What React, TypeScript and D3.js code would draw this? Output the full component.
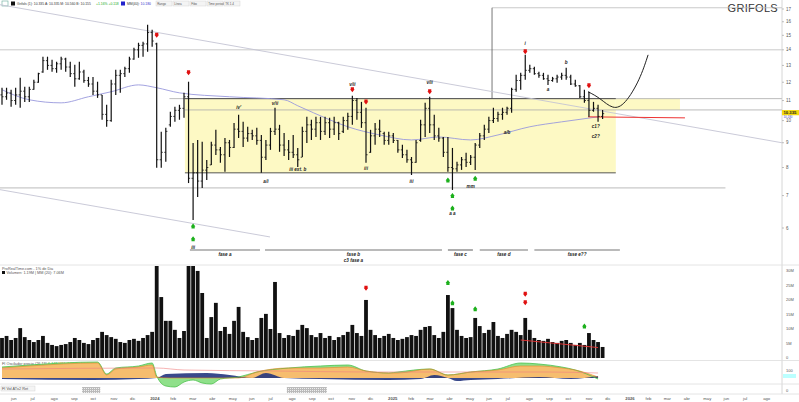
import React from 'react';
import * as d3 from 'd3';

const W = 799, H = 402;
const START = new Date(2023, 4, 18);
const END = new Date(2026, 7, 30);

// weekly OHLC (EUR)
const highs = [11.69,11.69,11.58,11.69,12.26,11.74,11.74,12.14,12.55,13.55,13.55,13.35,13.23,13.55,13.48,13.23,13.04,13.23,12.73,12.31,12.31,12.03,11.30,10.78,12.14,12.73,12.73,12.92,13.55,14.14,14.48,14.55,15.78,15.40,14.48,9.48,9.66,10.43,10.68,10.78,11.41,12.03,8.99,9.12,9.04,8.29,9.04,9.57,8.82,9.21,9.12,9.89,10.28,9.94,9.71,9.57,9.66,9.34,9.12,9.66,10.63,9.80,9.43,9.12,9.34,8.78,9.71,10.18,10.04,10.18,10.18,10.18,10.13,10.18,9.94,10.18,10.38,11.25,11.14,10.93,10.63,9.57,9.89,10.04,9.48,9.48,9.43,9.12,8.91,8.70,8.41,9.12,10.04,10.88,11.20,10.28,9.66,9.25,9.25,8.78,8.22,8.41,8.58,8.49,8.99,9.43,9.80,10.18,10.63,10.43,10.63,10.68,11.69,12.43,12.55,13.67,13.04,12.92,12.61,12.55,12.43,12.31,12.43,12.55,12.85,12.43,12.14,11.85,11.58,11.47,10.93,10.78,10.52];
const lows = [10.78,11.04,10.68,10.78,10.63,10.93,10.93,11.58,11.97,12.55,12.73,12.61,12.55,12.73,12.61,12.31,11.74,12.14,11.97,11.74,11.30,11.14,10.04,9.71,9.94,11.30,11.41,12.31,12.55,13.35,13.48,13.55,13.87,14.21,7.99,7.99,8.22,9.71,9.94,10.04,10.13,7.43,6.23,6.95,7.26,7.54,8.10,8.49,8.18,7.84,8.41,8.78,9.21,8.82,9.04,9.12,8.91,7.80,8.29,8.70,9.34,8.62,8.45,8.29,8.37,8.02,8.41,8.99,9.12,9.25,9.12,9.34,9.21,9.34,9.12,9.43,9.57,9.80,10.04,9.66,8.18,8.58,8.91,9.25,8.91,8.91,8.99,8.58,8.37,8.18,7.72,8.18,9.04,9.25,9.43,9.12,9.04,8.41,7.84,7.19,7.84,7.91,8.02,8.10,7.91,8.78,9.12,9.43,9.89,9.94,10.04,10.28,10.38,11.47,11.58,12.14,12.55,12.43,12.26,12.14,11.85,12.03,11.97,12.14,12.14,11.85,11.74,11.14,10.88,10.18,10.43,9.94,10.08];
const opens = [11.3,11.2,11.4,11.0,11.3,11.5,11.2,11.6,12.0,12.6,13.3,13.0,12.8,13.1,13.4,12.9,12.5,12.2,12.6,12.1,11.9,11.5,11.3,10.3,10.0,11.9,12.4,12.5,12.8,13.4,14.0,14.3,14.4,15.2,14.4,8.3,8.6,9.8,10.2,10.5,10.6,11.2,7.6,7.8,7.5,7.9,8.1,8.9,8.7,8.5,9.0,8.8,9.6,9.5,9.2,9.4,9.3,9.1,8.4,8.9,9.5,9.6,8.9,8.7,8.6,8.5,8.4,9.5,9.8,9.6,9.9,9.5,9.9,9.6,9.9,9.5,10.0,10.2,11.0,10.4,9.9,8.6,9.3,9.6,9.4,9.1,9.3,9.1,8.7,8.5,8.3,8.2,9.1,9.8,10.6,9.8,9.3,9.2,8.6,8.0,7.95,8.1,8.3,8.2,8.4,8.9,9.3,9.6,10.0,10.1,10.3,10.4,10.6,11.6,12.1,12.4,12.7,12.8,12.5,12.4,12.2,12.1,12.2,12.3,12.4,12.3,11.9,11.8,11.2,11.0,10.5,10.6,10.2];
const closes = [11.2,11.4,11.0,11.3,11.5,11.2,11.6,12.0,12.5,13.3,13.0,12.8,13.1,13.4,12.9,12.5,12.2,12.6,12.1,11.9,11.5,11.3,10.3,10.0,11.9,12.4,12.5,12.8,13.4,14.0,14.3,14.4,15.2,14.6,8.3,8.6,9.5,10.2,10.5,10.6,11.2,7.6,7.8,7.5,7.9,8.0,8.9,8.7,8.5,9.0,8.8,9.6,9.5,9.2,9.4,9.3,9.1,8.4,8.9,9.5,9.6,8.9,8.7,8.6,8.5,8.3,9.5,9.8,9.6,9.9,9.5,9.9,9.6,9.9,9.4,10.0,10.2,11.0,10.4,9.9,8.5,9.3,9.6,9.5,9.1,9.3,9.1,8.7,8.5,8.3,8.2,9.0,9.8,10.6,9.8,9.3,9.2,8.6,8.0,7.95,8.1,8.3,8.2,8.4,8.9,9.3,9.6,10.0,10.1,10.3,10.4,10.6,11.6,12.1,12.4,12.7,12.8,12.5,12.4,12.2,12.1,12.2,12.3,12.4,12.3,11.9,11.8,11.2,11.0,10.5,10.6,10.2,10.335];
// weekly volume (millions)
const volumes = [6.9,7.6,6.2,6.9,10.3,7.2,6.2,5.5,6.2,7.6,5.2,4.5,4.1,4.5,4.8,5.5,6.9,6.2,5.2,4.8,6.2,6.9,9.0,7.9,7.2,6.6,5.5,5.2,6.2,6.6,5.9,6.9,7.9,9.0,60,21.0,12.8,12.8,9.7,6.9,9.3,45,40,30.0,22.4,6.9,14.1,19.0,9.3,10.7,8.3,12.8,17.6,9.0,7.2,6.2,6.9,13.8,15.2,10.0,26.2,8.6,6.9,7.9,7.6,9.7,11.4,10.3,7.9,7.2,8.6,6.9,7.6,6.2,7.2,7.9,9.0,11.4,8.6,7.6,20.0,9.7,7.9,6.9,7.6,8.3,6.9,6.2,6.6,7.2,7.9,7.6,9.7,10.7,11.0,7.9,6.9,9.0,21.7,17.2,9.7,7.6,6.9,7.2,13.8,11.0,8.6,9.7,12.4,7.6,6.9,8.3,9.7,9.0,7.9,13.8,9.7,6.9,6.2,5.9,6.6,5.5,5.2,5.9,6.2,5.2,4.5,5.2,4.5,8.6,6.2,5.5,3.8];

// 40-week moving average, read at [week, price]
const maPoints: [number, number][] = [[0,11.58],[6,11.04],[13,10.88],[19,11.20],[24,11.47],[30,11.85],[34,11.69],[39,11.41],[50,11.20],[62,11.04],[65,10.73],[72,10.04],[76,9.71],[83,9.34],[90,9.12],[96,9.25],[103,9.12],[109,9.34],[116,9.71],[123,9.94],[131,10.18]];

// oscillator panel key points [week, value]
const oscOrange: [number, number][] = [[0,10],[6,12],[21,15],[23,3],[25,9],[30,11],[33,13],[34,1],[37,0],[52,0],[56,6],[63,10],[70,10],[76,11],[80,7],[85,5],[87,5],[94,9],[98,3],[103,6],[109,8],[114,12],[118,12],[123,10],[126,8],[131,1]];
const oscGreen: [number, number][] = [[0,11],[6,13],[21,16],[23,4],[25,10],[30,12],[33,15],[34,2],[36,-8],[38,-9],[40,-4],[42,-2],[44,-5],[46,-6],[48,-1],[52,1],[56,6],[63,10],[70,12],[76,13],[80,7],[85,5],[87,6],[94,9],[98,3],[103,6],[109,9],[114,15],[118,14],[123,11],[126,8],[131,-1]];
const oscNavy: [number, number][] = [[0,-1],[20,-2],[30,-1],[34,0],[36,4],[45,5],[50,3],[55,0],[58,5],[62,0],[70,-1],[85,-2],[92,-1],[95,3],[98,0],[100,-3],[103,-2],[109,-1],[118,1],[125,-1],[131,2]];
const oscPink: [number, number][] = [[0,9],[34,10],[40,8],[60,7],[80,6],[100,6],[120,6],[131,5]];

const priceTicks = [6,7,8,9,10,11,12,13,14,15,16,17];
const volTicks = [5,10,15,20,25,30];
const monthNames = ['ene','feb','mar','abr','may','jun','jul','ago','sep','oct','nov','dic'];
const legendBoxes = ["Rango","Línea","Fibo","Time period","TK 1.4"];

// annotations [week, price]
const redArrows: [number, number][] = [[34,15.0],[41,12.55],[77,11.58],[80,10.93],[94,11.47],[115,13.87],[129,11.8]];
const greenArrows: [number, number][] = [[42,6.06],[42,5.7],[98,7.54],[99,7.0],[99,6.6],[104,7.6]];
const waveLabels: [string, number, number][] = [["iii",42,5.48],["iv'",52,10.63],["v/ii",60,10.83],["a/i",58,7.48],["iii ext. b",65,7.91],["v/ii",77,11.9],["iii",80,7.95],["v/ii",94,11.97],["iii",90,7.5],["a a",99,6.42],["mm",103,7.3],["i",115,14.4],["b",124,13.2],["a",120,11.58],["a/b",111,9.43],["c1?",130.5,9.71],["c2?",130.5,9.25]];
const phases: [string, string, number, number][] = [["fase a","",41.3,56.7],["fase b","c3 fase a",57.8,96.7],["fase c","",98,103.5],["fase d","",105,115.6],["fase e??","",117,135.8]];
const parabola: [number, number][] = [[128.8,11.47],[131.4,11.14],[134.3,10.52],[136.9,10.78],[140.2,12.14],[142,13.67]];

export default function App() {
  const nWeeksSpan = (END.getTime() - START.getTime()) / (7 * 86400000);
  const xi = d3.scaleLinear().domain([0, nWeeksSpan]).range([2, 782]);
  const xt = d3.scaleTime().domain([START, END]).range([2, 782]);
  const y = d3.scaleLog().domain([6, 17]).range([228, 9]);
  const vy = d3.scaleLinear().domain([0, 31.7]).range([358, 266]);
  const oy = d3.scaleLinear().domain([0, 10]).range([378, 368]);

  const months = d3.timeMonth.range(new Date(2023, 5, 1), END);
  const font = 'Liberation Sans, Arial, sans-serif';

  const line = d3.line<[number, number]>().x(d => xi(d[0])).y(d => y(d[1])).curve(d3.curveMonotoneX);
  const curveLine = d3.line<[number, number]>().x(d => xi(d[0])).y(d => y(d[1])).curve(d3.curveBasis);
  const oLine = d3.line<[number, number]>().x(d => xi(d[0])).y(d => oy(d[1])).curve(d3.curveMonotoneX);
  const oArea = d3.area<[number, number]>().x(d => xi(d[0])).y0(oy(0)).y1(d => oy(d[1])).curve(d3.curveMonotoneX);

  const arrow = (cx: number, cy: number, down: boolean, color: string, k: number) => {
    const s = down ? 1 : -1;
    return <path key={k} d={`M${cx - 1.6},${cy - 2.5 * s} L${cx + 1.6},${cy - 2.5 * s} L${cx + 1.6},${cy - 0.5 * s} L${cx + 2.3},${cy - 0.5 * s} L${cx},${cy + 2.5 * s} L${cx - 2.3},${cy - 0.5 * s} L${cx - 1.6},${cy - 0.5 * s} Z`} fill={color} />;
  };
  const lastY = y(10.335);

  return (
    <svg width={W} height={H} style={{ position: 'absolute', left: 0, top: 0, background: '#fff' }} fontFamily={font}>
      <defs>
        <pattern id="hatch" width="2" height="2" patternUnits="userSpaceOnUse">
          <rect width="2" height="2" fill="#bbb" />
          <rect width="1" height="1" fill="#eee" />
        </pattern>
        <clipPath id="mainClip"><rect x={0} y={0} width={782} height={265} /></clipPath>
        <clipPath id="volClip"><rect x={0} y={266} width={782} height={94} /></clipPath>
      </defs>

      {/* header legend */}
      <rect x={2} y={1} width={6} height={5} fill="none" stroke="#6a9" strokeWidth={0.6} />
      <rect x={11} y={1.5} width={4} height={4} fill="#111" />
      <text x={17} y={5} fontSize={3.4} fill="#333">Grifols (1): 10.335 A: 10.335 M: 10.560 B: 10.155</text>
      <text x={96} y={5} fontSize={3.4} fill="#2a2">+1.16% +0.118</text>
      <rect x={121} y={1.5} width={4} height={4} fill="#22c" />
      <text x={127} y={5} fontSize={3.4} fill="#333">MM(40): <tspan fill="#33c">10.180</tspan></text>
      {legendBoxes.map((t, k) => (
        <g key={k}><rect x={156 + k * 17} y={1} width={16} height={5} fill="#f4f4f4" stroke="#ccc" strokeWidth={0.4} /><text x={157.2 + k * 17} y={4.8} fontSize={3} fill="#555">{t}</text></g>
      ))}
      <text x={778} y={12} fontSize={11} fill="#333" textAnchor="end" letterSpacing={0.3}>GRIFOLS</text>

      {/* main panel */}
      <g clipPath="url(#mainClip)">
        <rect x={xi(40.2)} y={y(11.1)} width={xi(134.9) - xi(40.2)} height={y(7.8) - y(11.1)} fill="#fdf9c4" />
        <rect x={xi(134.9)} y={y(11.1)} width={xi(149) - xi(134.9)} height={y(10.52) - y(11.1)} fill="#fdf9c4" />
        <line x1={0} x2={782} y1={y(14)} y2={y(14)} stroke="#bbb" strokeWidth={0.8} />
        <line x1={xi(107.7)} x2={782} y1={y(17.1)} y2={y(17.1)} stroke="#bbb" strokeWidth={0.8} />
        <line x1={xi(36.8)} x2={782} y1={y(11.1)} y2={y(11.1)} stroke="#aaa" strokeWidth={0.8} />
        <line x1={xi(40.2)} x2={xi(134.9)} y1={y(11.1)} y2={y(11.1)} stroke="#444" strokeWidth={0.9} />
        <line x1={xi(40.2)} x2={782} y1={y(10.52)} y2={y(10.52)} stroke="#aaa" strokeWidth={0.8} />
        <line x1={xi(40.2)} x2={xi(134.9)} y1={y(7.8)} y2={y(7.8)} stroke="#444" strokeWidth={0.9} />
        <line x1={0} x2={xi(159)} y1={y(7.26)} y2={y(7.26)} stroke="#aaa" strokeWidth={0.8} />
        <line x1={xi(107.7)} x2={xi(107.7)} y1={y(17.1)} y2={y(11.1)} stroke="#555" strokeWidth={0.8} />
        <line x1={xi(-0.44)} y1={y(17.35)} x2={xi(175.2)} y2={y(8.87)} stroke="#c4c4d4" strokeWidth={0.9} />
        <line x1={xi(-0.44)} y1={y(7.2)} x2={xi(58.9)} y2={y(5.75)} stroke="#c4c4d4" strokeWidth={0.9} />
        <path d={line(maPoints) || ''} fill="none" stroke="#9898dc" strokeWidth={0.9} />
        <line x1={xi(128.8)} y1={y(10.18)} x2={xi(150.1)} y2={y(10.13)} stroke="#e33" strokeWidth={1} />
        <path d={curveLine(parabola) || ''} fill="none" stroke="#222" strokeWidth={1} />
        {highs.map((h, i) => {
          const cx = xi(i);
          return (
            <g key={i} stroke="#111" strokeWidth={1.2}>
              <line x1={cx} x2={cx} y1={y(h)} y2={y(lows[i])} />
              <line x1={cx - 1.6} x2={cx} y1={y(opens[i])} y2={y(opens[i])} strokeWidth={0.8} />
              <line x1={cx} x2={cx + 1.6} y1={y(closes[i])} y2={y(closes[i])} strokeWidth={0.8} />
            </g>
          );
        })}
        {redArrows.map((a, k) => arrow(xi(a[0]), y(a[1]), true, '#e01010', k))}
        {greenArrows.map((a, k) => arrow(xi(a[0]), y(a[1]), false, '#1cb01c', 100 + k))}
        {waveLabels.map((l, k) => (
          <text key={k} x={xi(l[1])} y={y(l[2]) + 1.5} fontSize={4.6} fontStyle="italic" fontWeight="bold" fill="#222" textAnchor="middle">{l[0]}</text>
        ))}
        {phases.map((p, k) => (
          <g key={k}>
            <line x1={xi(p[2])} x2={xi(p[3])} y1={250} y2={250} stroke="#777" strokeWidth={1.2} />
            <text x={(xi(p[2]) + xi(p[3])) / 2} y={256} fontSize={4.6} fontStyle="italic" fontWeight="bold" fill="#222" textAnchor="middle">{p[0]}</text>
            {p[1] && <text x={(xi(p[2]) + xi(p[3])) / 2} y={261.5} fontSize={4.6} fontStyle="italic" fontWeight="bold" fill="#222" textAnchor="middle">{p[1]}</text>}
          </g>
        ))}
      </g>

      {/* right axis */}
      <line x1={782} x2={782} y1={0} y2={394} stroke="#ccc" strokeWidth={0.8} />
      {priceTicks.map(t => (
        <g key={t}>
          <line x1={782} x2={784} y1={y(t)} y2={y(t)} stroke="#999" strokeWidth={0.6} />
          <text x={786} y={y(t) + 1.5} fontSize={4.5} fill="#555">{t}</text>
        </g>
      ))}
      <rect x={782} y={lastY - 3.6} width={17} height={5.2} fill="#f5d90a" />
      <text x={783.5} y={lastY + 0.4} fontSize={4.2} fontWeight="bold" fill="#222">10.335</text>
      <text x={783.5} y={lastY + 4} fontSize={2.9} fill="#44c">10.180</text>

      {/* panel separators */}
      <line x1={0} x2={799} y1={265} y2={265} stroke="#ddd" strokeWidth={0.8} />
      <line x1={0} x2={799} y1={360.5} y2={360.5} stroke="#ddd" strokeWidth={0.8} />
      <line x1={0} x2={799} y1={384} y2={384} stroke="#ddd" strokeWidth={0.8} />
      <line x1={0} x2={799} y1={394} y2={394} stroke="#ddd" strokeWidth={0.8} />

      {/* volume */}
      <text x={2} y={269.5} fontSize={3.8} fill="#555">ProRealTime.com - 1% de Dia</text>
      <rect x={2} y={271} width={3} height={3} fill="#111" />
      <text x={6.5} y={274} fontSize={3.8} fill="#555">Volumen: 1.19M  |  MM (20): 7.06M</text>
      <g clipPath="url(#volClip)">
        {volumes.map((v, i) => (
          <rect key={i} x={xi(i) - 1.9} width={3.8} y={vy(v)} height={vy(0) - vy(v)} fill="#111" />
        ))}
        <line x1={xi(114)} y1={vy(6.2)} x2={xi(131)} y2={vy(3.6)} stroke="#e33" strokeWidth={0.9} />
      </g>
      {[[80, 24], [115, 22], [115, 19]].map((a, k) => arrow(xi(a[0]), vy(a[1]), true, '#e01010', 200 + k))}
      {[[98, 26], [99, 19], [104, 17], [128, 11]].map((a, k) => arrow(xi(a[0]), vy(a[1]), false, '#1cb01c', 300 + k))}
      {volTicks.map(t => (
        <text key={t} x={786} y={vy(t) + 1.5} fontSize={4} fill="#555">{t}M</text>
      ))}
      <text x={786} y={vy(0) + 0.5} fontSize={4} fill="#555">0</text>

      {/* oscillator */}
      <text x={2} y={364.5} fontSize={3.8} fill="#555">FI Oscilador precio (26,13)  <tspan fill="#2a2">6.178</tspan>  <tspan fill="#e80">MM: 4.86</tspan>  <tspan fill="#c33">Señal: 5.03</tspan></text>
      <path d={oArea(oscGreen) || ''} fill="#8fe08a" />
      <path d={oArea(oscOrange) || ''} fill="#f6bd6e" />
      <path d={oArea(oscNavy) || ''} fill="#24357e" opacity={0.9} />
      <path d={oLine(oscGreen) || ''} fill="none" stroke="#4cc04c" strokeWidth={0.8} />
      <path d={oLine(oscOrange) || ''} fill="none" stroke="#e8862a" strokeWidth={0.6} />
      <path d={oLine(oscPink) || ''} fill="none" stroke="#f08080" strokeWidth={0.6} />
      <text x={786} y={372} fontSize={4} fill="#555">100</text>
      <rect x={783} y={374} width={13} height={4} fill="#bff" />

      {/* third panel */}
      <rect x={1} y={386} width={34} height={5} fill="#f4f4f4" stroke="#ccc" strokeWidth={0.4} />
      <text x={2} y={389.8} fontSize={3.8} fill="#555">FI Vol ATx2 Ret</text>
      <rect x={xi(17.6)} y={387} width={xi(21.6) - xi(17.6)} height={6} fill="url(#hatch)" />
      <rect x={xi(62.6)} y={387} width={xi(71.4) - xi(62.6)} height={6} fill="url(#hatch)" />
      <text x={786} y={392} fontSize={4} fill="#555">0</text>

      {/* x axis */}
      {months.map((m, k) => (
        <text key={k} x={xt(m)} y={400} fontSize={4.2} fill="#555" fontWeight={m.getMonth() === 0 ? 'bold' : 'normal'}>
          {m.getMonth() === 0 ? String(m.getFullYear()) : monthNames[m.getMonth()]}
        </text>
      ))}
    </svg>
  );
}
